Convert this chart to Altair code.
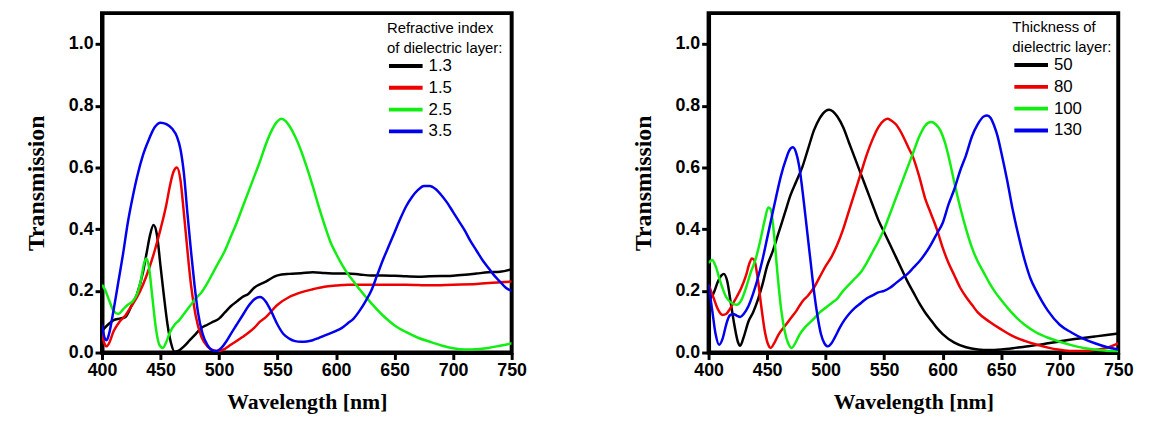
import altair as alt
import pandas as pd

# ---------------- Left panel: refractive index of dielectric layer ----------------
wl_n13 = [400, 405, 410, 415, 420, 425, 430, 435, 438, 441, 444, 447, 450, 453, 456, 459, 462, 465,
          470, 475, 480, 485, 490, 495, 500, 505, 510, 515, 520, 525, 530, 540, 550, 560, 570, 580,
          590, 600, 610, 620, 630, 640, 650, 660, 670, 680, 690, 700, 710, 720, 730, 740, 750]
t_n13 = [0.07, 0.09, 0.105, 0.11, 0.115, 0.15, 0.19, 0.26, 0.32, 0.38, 0.413, 0.38, 0.28, 0.18, 0.09,
         0.03, 0.003, 0.005, 0.02, 0.04, 0.06, 0.08, 0.09, 0.1, 0.11, 0.13, 0.15, 0.165, 0.18, 0.19,
         0.21, 0.23, 0.25, 0.255, 0.257, 0.26, 0.258, 0.256, 0.256, 0.253, 0.25, 0.25, 0.249, 0.247,
         0.246, 0.247, 0.248, 0.249, 0.252, 0.256, 0.26, 0.262, 0.27]

wl_n15 = [400, 402, 404, 406, 410, 415, 420, 425, 430, 435, 440, 445, 450, 455, 458, 461, 464, 467,
          470, 473, 476, 480, 485, 490, 495, 500, 505, 510, 520, 530, 535, 540, 550, 560, 570, 580,
          590, 600, 610, 620, 640, 660, 680, 700, 720, 740, 750]
t_n15 = [0.06, 0.03, 0.02, 0.03, 0.07, 0.1, 0.12, 0.15, 0.18, 0.22, 0.27, 0.33, 0.4, 0.48, 0.54, 0.585,
         0.6, 0.56, 0.45, 0.33, 0.22, 0.12, 0.05, 0.02, 0.008, 0.005, 0.012, 0.025, 0.05, 0.08, 0.1,
         0.115, 0.155, 0.18, 0.195, 0.205, 0.213, 0.217, 0.22, 0.22, 0.22, 0.22, 0.218, 0.22, 0.222,
         0.228, 0.23]

wl_n25 = [400, 403, 406, 410, 414, 418, 422, 426, 430, 433, 436, 438, 440, 443, 446, 449, 452, 455,
          458, 462, 466, 470, 475, 480, 485, 490, 495, 500, 505, 510, 515, 520, 525, 530, 535, 540,
          545, 550, 553, 557, 560, 565, 570, 575, 580, 585, 590, 595, 600, 605, 610, 615, 620, 630,
          640, 650, 660, 670, 680, 690, 700, 710, 720, 730, 740, 750]
t_n25 = [0.22, 0.2, 0.17, 0.135, 0.125, 0.14, 0.155, 0.165, 0.19, 0.23, 0.29, 0.305, 0.28, 0.18, 0.08,
         0.025, 0.015, 0.035, 0.065, 0.09, 0.105, 0.125, 0.15, 0.175, 0.195, 0.225, 0.26, 0.295, 0.33,
         0.375, 0.42, 0.47, 0.52, 0.57, 0.62, 0.675, 0.72, 0.75, 0.758, 0.75, 0.735, 0.7, 0.655, 0.6,
         0.54, 0.475, 0.415, 0.36, 0.32, 0.285, 0.255, 0.23, 0.205, 0.16, 0.12, 0.088, 0.066, 0.048,
         0.035, 0.023, 0.014, 0.01, 0.011, 0.015, 0.022, 0.03]

wl_n35 = [400, 402, 404, 406, 410, 414, 418, 422, 426, 430, 435, 440, 445, 450, 455, 460, 464, 467,
          470, 473, 476, 479, 482, 486, 490, 494, 498, 502, 506, 510, 515, 520, 525, 530, 535, 540,
          545, 550, 555, 560, 565, 570, 575, 580, 585, 590, 600, 605, 610, 615, 620, 625, 630, 635,
          640, 645, 650, 655, 660, 665, 670, 675, 680, 685, 690, 695, 700, 705, 710, 715, 720, 725,
          730, 735, 740, 745, 750]
t_n35 = [0.09, 0.05, 0.04, 0.06, 0.14, 0.23, 0.32, 0.42, 0.5, 0.57, 0.64, 0.69, 0.73, 0.745, 0.74,
         0.725, 0.7, 0.66, 0.58, 0.45, 0.33, 0.22, 0.13, 0.06, 0.025, 0.008, 0.005, 0.015, 0.035, 0.06,
         0.09, 0.12, 0.15, 0.172, 0.18, 0.165, 0.13, 0.09, 0.06, 0.045, 0.037, 0.035, 0.036, 0.04,
         0.047, 0.055, 0.07, 0.08, 0.095, 0.11, 0.135, 0.165, 0.2, 0.25, 0.3, 0.345, 0.39, 0.435,
         0.475, 0.505, 0.527, 0.54, 0.54, 0.53, 0.51, 0.485, 0.455, 0.425, 0.395, 0.36, 0.33, 0.3,
         0.275, 0.25, 0.23, 0.21, 0.2]

# ---------------- Right panel: thickness of dielectric layer ----------------
wl_d50 = [400, 404, 408, 411, 413, 416, 419, 422, 425, 427, 430, 434, 438, 442, 446, 450, 455, 460,
          465, 470, 475, 480, 485, 490, 495, 500, 503, 506, 510, 515, 520, 525, 530, 535, 540, 545,
          550, 555, 560, 565, 570, 575, 580, 585, 590, 595, 600, 610, 620, 630, 640, 650, 660, 670,
          680, 690, 700, 710, 720, 730, 740, 750]
t_d50 = [0.17, 0.19, 0.23, 0.25, 0.255, 0.23, 0.16, 0.09, 0.035, 0.022, 0.05, 0.1, 0.13, 0.17, 0.22,
         0.28, 0.33, 0.39, 0.45, 0.51, 0.555, 0.6, 0.66, 0.72, 0.76, 0.783, 0.787, 0.782, 0.765, 0.73,
         0.68, 0.63, 0.58, 0.53, 0.48, 0.43, 0.39, 0.35, 0.31, 0.27, 0.23, 0.195, 0.16, 0.13, 0.105,
         0.08, 0.06, 0.032, 0.017, 0.01, 0.008, 0.01, 0.014, 0.019, 0.024, 0.03, 0.036, 0.042, 0.047,
         0.052, 0.057, 0.062]

wl_d80 = [400, 404, 408, 412, 415, 418, 421, 424, 428, 432, 435, 437, 439, 442, 445, 448, 451, 453,
          456, 460, 465, 470, 475, 480, 485, 490, 495, 500, 505, 510, 515, 520, 525, 530, 535, 540,
          545, 550, 553, 556, 560, 565, 570, 575, 580, 585, 590, 595, 600, 605, 610, 615, 620, 625,
          630, 640, 650, 660, 670, 680, 690, 700, 710, 720, 730, 740, 750]
t_d80 = [0.22, 0.18, 0.14, 0.122, 0.125, 0.14, 0.16, 0.18, 0.21, 0.25, 0.29, 0.305, 0.3, 0.24, 0.15,
         0.07, 0.025, 0.015, 0.03, 0.06, 0.085, 0.11, 0.135, 0.165, 0.185, 0.21, 0.245, 0.28, 0.31,
         0.35, 0.4, 0.46, 0.52, 0.58, 0.64, 0.69, 0.73, 0.753, 0.758, 0.752, 0.74, 0.71, 0.67, 0.63,
         0.57, 0.5, 0.45, 0.4, 0.34, 0.29, 0.25, 0.21, 0.18, 0.155, 0.13, 0.1, 0.075, 0.053, 0.038,
         0.026, 0.016, 0.009, 0.005, 0.005, 0.008, 0.015, 0.03]

wl_d100 = [400, 403, 406, 410, 415, 420, 424, 428, 432, 436, 440, 444, 448, 451, 453, 456, 459, 462,
           465, 468, 471, 474, 478, 482, 486, 490, 495, 500, 505, 510, 515, 520, 525, 530, 535, 540,
           545, 550, 555, 560, 565, 570, 575, 580, 585, 590, 594, 598, 602, 606, 610, 615, 620, 625,
           630, 635, 640, 645, 650, 660, 670, 680, 690, 700, 710, 720, 730, 740, 750]
t_d100 = [0.29, 0.3, 0.28, 0.23, 0.18, 0.16, 0.155, 0.17, 0.21, 0.26, 0.3, 0.36, 0.43, 0.47, 0.465,
          0.38, 0.25, 0.14, 0.07, 0.03, 0.015, 0.03, 0.06, 0.08, 0.095, 0.11, 0.13, 0.145, 0.16, 0.175,
          0.2, 0.22, 0.24, 0.26, 0.29, 0.325, 0.36, 0.4, 0.45, 0.5, 0.55, 0.6, 0.65, 0.7, 0.735, 0.747,
          0.74, 0.72, 0.68, 0.62, 0.55, 0.47, 0.4, 0.34, 0.295, 0.26, 0.225, 0.195, 0.17, 0.125, 0.09,
          0.065, 0.048, 0.035, 0.024, 0.015, 0.01, 0.006, 0.004]

wl_d130 = [400, 403, 406, 409, 412, 415, 418, 421, 424, 427, 430, 434, 438, 442, 446, 450, 454, 458,
           462, 466, 469, 472, 475, 478, 481, 484, 487, 490, 493, 496, 499, 502, 505, 508, 512, 516,
           520, 525, 530, 535, 540, 545, 550, 555, 560, 565, 570, 575, 580, 585, 590, 595, 600, 605,
           610, 615, 620, 625, 630, 635, 638, 641, 644, 647, 650, 655, 660, 665, 670, 675, 680, 685,
           690, 700, 710, 720, 730, 740, 750]
t_d130 = [0.22, 0.14, 0.06, 0.025, 0.045, 0.09, 0.12, 0.125, 0.12, 0.115, 0.125, 0.15, 0.19, 0.24,
          0.3, 0.37, 0.44, 0.51, 0.575, 0.625, 0.655, 0.665, 0.645, 0.59, 0.5, 0.4, 0.3, 0.2, 0.12,
          0.06, 0.03, 0.02, 0.03, 0.05, 0.08, 0.105, 0.125, 0.145, 0.16, 0.175, 0.185, 0.195, 0.2,
          0.21, 0.225, 0.24, 0.255, 0.275, 0.295, 0.32, 0.35, 0.385, 0.42, 0.48, 0.53, 0.59, 0.64,
          0.7, 0.74, 0.765, 0.768, 0.76, 0.735, 0.7, 0.65, 0.56, 0.46, 0.375, 0.3, 0.24, 0.2, 0.165,
          0.135, 0.09, 0.065, 0.045, 0.03, 0.018, 0.01]

left_labels = ["1.3", "1.5", "2.5", "3.5"]
right_labels = ["50", "80", "100", "130"]
left_title = ["Refractive index", "of dielectric layer:"]
right_title = ["Thickness of", "dielectric layer:"]
line_colors = ["#000000", "#ee0000", "#11ee11", "#0000ee"]
x_ticks = [400, 450, 500, 550, 600, 650, 700, 750]
y_ticks = [0.0, 0.2, 0.4, 0.6, 0.8, 1.0]

SANS = "Liberation Sans Narrow, Arial Narrow, Liberation Sans, Arial, sans-serif"
SERIF = "Liberation Serif, Times New Roman, serif"


def make_frame(series, labels):
    rows = []
    for order, (lab, (xs, ys)) in enumerate(zip(labels, series)):
        for x, y in zip(xs, ys):
            rows.append({"wl": x, "t": y, "s": lab, "o": order})
    return pd.DataFrame(rows)


def panel(df, labels, title, lx, ly):
    return alt.Chart(df).mark_line(strokeWidth=2.5, interpolate="monotone", clip=True).encode(
        x=alt.X("wl:Q", scale=alt.Scale(domain=[400, 750], nice=False, zero=False),
                axis=alt.Axis(values=x_ticks, title="Wavelength [nm]", format="d")),
        y=alt.Y("t:Q", scale=alt.Scale(domain=[0, 1.1], nice=False),
                axis=alt.Axis(values=y_ticks, format=".1f", title="Transmission")),
        color=alt.Color("s:N", sort=labels,
                        scale=alt.Scale(domain=labels, range=line_colors),
                        legend=alt.Legend(title=title, orient="none", legendX=lx, legendY=ly)),
        order=alt.Order("o:Q"),
    ).properties(width=414, height=343)


left = panel(make_frame([(wl_n13, t_n13), (wl_n15, t_n15), (wl_n25, t_n25), (wl_n35, t_n35)],
                        left_labels), left_labels, left_title, 288, 8)
right = panel(make_frame([(wl_d50, t_d50), (wl_d80, t_d80), (wl_d100, t_d100), (wl_d130, t_d130)],
                         right_labels), right_labels, right_title, 307, 7)

chart = alt.hconcat(left, right, spacing=199, bounds="flush").resolve_scale(
    color="independent"
).properties(
    padding={"left": 14, "top": 1, "right": 5, "bottom": 5},
    background="white",
).configure_view(
    stroke="black", strokeWidth=4
).configure_axis(
    grid=False,
    domainColor="black", domainWidth=4,
    tickColor="black", tickWidth=3, tickSize=7,
    labelFont=SANS, labelFontSize=18, labelFontWeight="bold", labelColor="black",
    labelPadding=2, labelFlush=False,
    titleFont=SERIF, titleFontWeight="bold", titleColor="black",
).configure_axisX(
    titleFontSize=22, titlePadding=13,
).configure_axisY(
    titleFontSize=24, titlePadding=20,
).configure_legend(
    symbolType="stroke", symbolSize=1156, symbolStrokeWidth=4, clipHeight=17,
    rowPadding=4, labelOffset=4, padding=0, titlePadding=2,
    labelFont=SANS, labelFontSize=17, labelColor="black",
    titleFont=SANS, titleFontSize=15, titleFontWeight="normal", titleColor="black",
    titleLineHeight=20,
)

chart.save("out.html", embed_options={"renderer": "svg", "actions": False})
